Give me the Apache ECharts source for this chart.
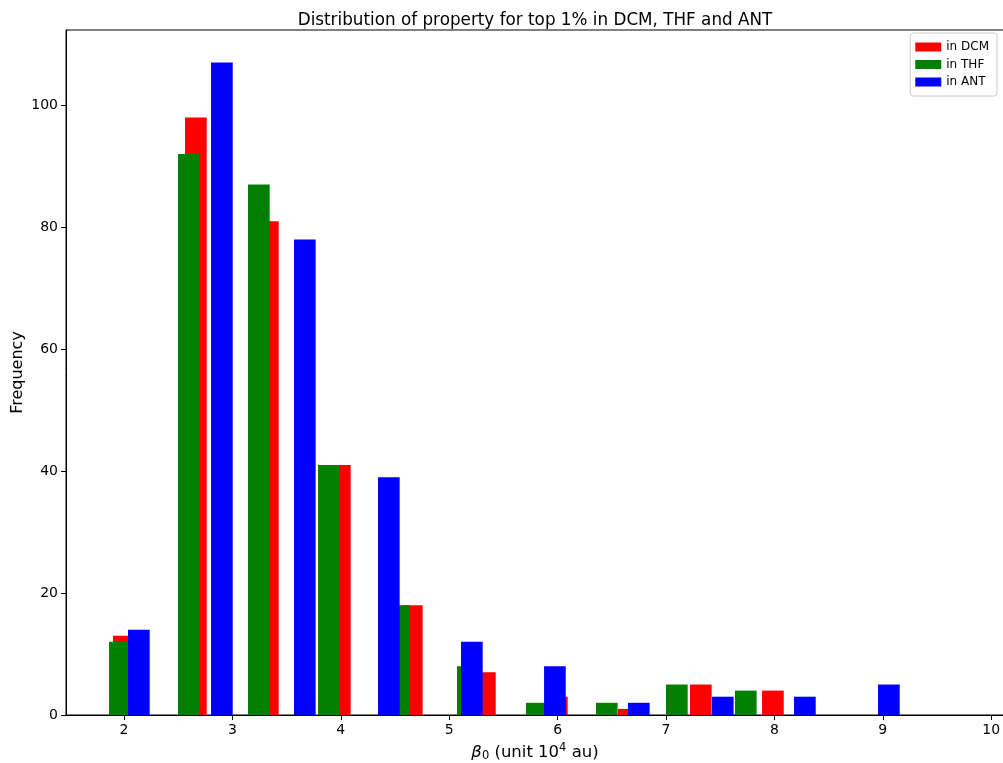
<!DOCTYPE html>
<html>
<head>
    <meta charset="utf-8">
    <title>Distribution of property for top 1%</title>
    <script src="https://cdn.jsdelivr.net/npm/echarts@6/dist/echarts.min.js"></script>
</head>
<body style="margin:0">
    <div id="main" style="width:1003px;height:763px"></div>
    <script type="text/javascript">
        // bin left edges (unit 10^4 au) and counts
        var dcmEdges = [1.899, 2.563, 3.227, 3.891, 4.555, 5.229, 5.893, 6.557, 7.221, 7.886];
        var dcmCounts = [13, 98, 81, 41, 18, 7, 3, 1, 5, 4];
        var thfEdges = [1.862, 2.498, 3.144, 3.790, 4.435, 5.072, 5.708, 6.354, 7.000, 7.636];
        var thfCounts = [12, 92, 87, 41, 18, 8, 2, 2, 5, 4];
        var antEdges = [2.037, 2.803, 3.568, 4.343, 5.109, 5.875, 6.649, 7.424, 8.181, 8.956];
        var antCounts = [14, 107, 78, 39, 12, 8, 2, 3, 3, 5];
        var xTicks = [2, 3, 4, 5, 6, 7, 8, 9, 10];
        var yTicks = [0, 20, 40, 60, 80, 100];

        var barWidth = 0.2;
        var font = 'DejaVu Sans';

        function toData(edges, counts) {
            var out = [];
            for (var i = 0; i < edges.length; i++) out.push([edges[i], counts[i]]);
            return out;
        }

        function renderBar(params, api) {
            var x0 = api.value(0);
            var top = api.coord([x0, api.value(1)]);
            var base = api.coord([x0 + barWidth, 0]);
            return {
                type: 'rect',
                shape: { x: top[0], y: top[1], width: base[0] - top[0], height: base[1] - top[1] },
                style: { fill: api.visual('color') }
            };
        }

        function makeSeries(name, color, edges, counts) {
            return {
                name: name,
                type: 'custom',
                renderItem: renderBar,
                itemStyle: { color: color },
                encode: { x: 0, y: 1 },
                data: toData(edges, counts)
            };
        }

        var myChart = echarts.init(document.getElementById('main'));
        myChart.setOption({
            animation: false,
            title: {
                text: 'Distribution of property for top 1% in DCM, THF and ANT',
                left: 530,
                textAlign: 'center',
                top: 7,
                textStyle: { fontFamily: font, fontSize: 16.8, fontWeight: 'normal', color: '#000' }
            },
            legend: {
                orient: 'vertical',
                right: 6,
                top: 33,
                itemWidth: 26,
                itemHeight: 9,
                itemGap: 5.5,
                padding: [8, 8, 8, 5],
                backgroundColor: 'rgba(255,255,255,0.8)',
                borderColor: '#cccccc',
                borderWidth: 1,
                borderRadius: 3,
                textStyle: { fontFamily: font, fontSize: 12, color: '#000' },
                data: [
                    { name: 'in DCM', icon: 'rect' },
                    { name: 'in THF', icon: 'rect' },
                    { name: 'in ANT', icon: 'rect' }
                ]
            },
            grid: {
                left: 66,
                top: 30,
                width: 938,
                height: 685,
                outerBoundsMode: 'none',
                containLabel: false,
                show: true,
                borderColor: '#000',
                borderWidth: 1
            },
            xAxis: {
                type: 'value',
                min: 1.465,
                max: 10.118,
                name: '{b|β}{s|0} (unit 10{p|4} au)',
                nameLocation: 'middle',
                nameGap: 27,
                nameMoveOverlap: false,
                nameTextStyle: {
                    fontFamily: font, fontSize: 16.5, color: '#000',
                    rich: {
                        b: { fontFamily: font, fontSize: 16.5, fontStyle: 'italic', color: '#000' },
                        s: { fontFamily: font, fontSize: 11.5, color: '#000', padding: [7, 0, 0, 0] },
                        p: { fontFamily: font, fontSize: 11.5, color: '#000', padding: [0, 0, 10, 0] }
                    }
                },
                axisLine: { lineStyle: { color: '#000', width: 1 } },
                axisTick: { length: 5, lineStyle: { color: '#000' }, customValues: xTicks },
                axisLabel: { fontFamily: font, fontSize: 14, color: '#000', margin: 8, customValues: xTicks },
                splitLine: { show: false }
            },
            yAxis: {
                type: 'value',
                min: 0,
                max: 112.35,
                name: 'Frequency',
                nameLocation: 'middle',
                nameGap: 40,
                nameMoveOverlap: false,
                nameTextStyle: { fontFamily: font, fontSize: 16, color: '#000' },
                axisLine: { show: true, lineStyle: { color: '#000', width: 1 } },
                axisTick: { show: true, length: 5, lineStyle: { color: '#000' }, customValues: yTicks },
                axisLabel: { fontFamily: font, fontSize: 14, color: '#000', margin: 8, customValues: yTicks },
                splitLine: { show: false }
            },
            series: [
                makeSeries('in DCM', '#ff0000', dcmEdges, dcmCounts),
                makeSeries('in THF', '#008000', thfEdges, thfCounts),
                makeSeries('in ANT', '#0000ff', antEdges, antCounts)
            ]
        });
    </script>
</body>
</html>
